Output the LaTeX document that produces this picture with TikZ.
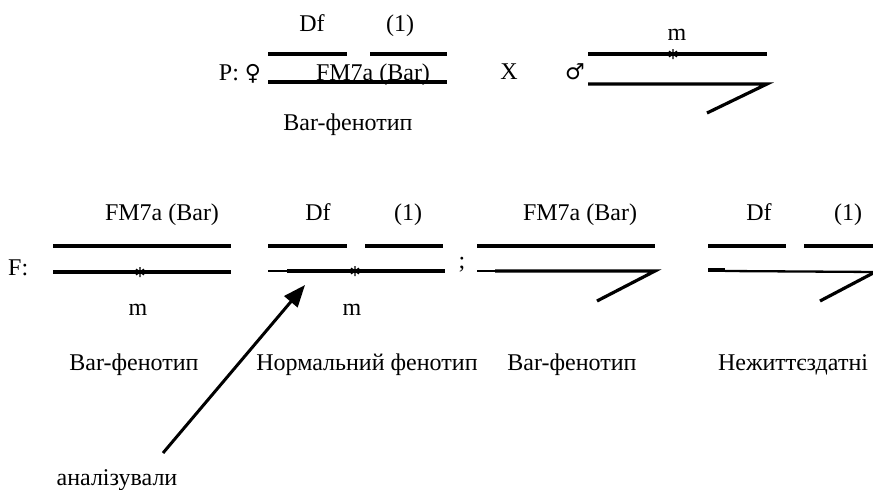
\documentclass[tikz,border=0pt]{standalone}
\usepackage{fontspec}
\setmainfont{Liberation Serif}
\newfontfamily\gsym{DejaVu Sans}
\usetikzlibrary{arrows.meta}
\begin{document}
\begin{tikzpicture}[x=1pt,y=-1pt,
  chrom/.style={line width=3.2pt},
  thinchrom/.style={line width=2.3pt},
  lbl/.style={inner sep=0pt, anchor=base, font=\fontsize{24}{28}\selectfont},
  pointer/.style={line width=3pt,-{Triangle[length=22pt,width=17pt]}},
  astk/.pic={\draw[line width=1.4pt] (0,-5)--(0,5) (-4,-2.8)--(4,2.8) (-4,2.8)--(4,-2.8);}]
\useasboundingbox (0,0) rectangle (873,490);
\clip (0,0) rectangle (873,490);

% ---------- P generation ----------
\node[lbl] (pdf) at (312,31) {Df};
\node[lbl] (pone) at (400,31) {(1)};
\node[lbl] (pfem) at (240,80) {P: {\gsym\fontsize{22}{26}\selectfont ♀}};
\node[lbl] (pfm) at (373,80) {FM7a (Bar)};
\node[lbl] (pbar) at (348,130) {Bar-фенотип};
\node[lbl] (px) at (509,79) {X};
\node[lbl] (pmale) at (575,79) {\gsym\fontsize{22}{26}\selectfont ♂};
\node[lbl] (pm) at (677,40) {m};

\draw[chrom] (268,54) -- (347,54);
\draw[chrom] (370,54) -- (447,54);
\draw[chrom] (268,82) -- (447,82);

\draw[chrom] (588,54) -- (767,54);
\pic at (673,54) {astk};
\draw[chrom] (588,84) -- (767,84) -- (707,113);

% ---------- F generation ----------
\node[lbl, anchor=base west] (ff) at (8,275) {F:};
\node[lbl] (fm1) at (162,220) {FM7a (Bar)};
\node[lbl] (fdf2) at (318,220) {Df};
\node[lbl] (fone2) at (408,220) {(1)};
\node[lbl] (fm3) at (580,220) {FM7a (Bar)};
\node[lbl] (fdf4) at (759,220) {Df};
\node[lbl] (fone4) at (848,220) {(1)};
\node[lbl] (fsemi) at (462,268) {;};
\node[lbl] (fmA) at (138,315) {m};
\node[lbl] (fmB) at (352,315) {m};
\node[lbl] (ph1) at (134,370) {Bar-фенотип};
\node[lbl] (ph2) at (367,370) {Нормальний фенотип};
\node[lbl] (ph3) at (572,370) {Bar-фенотип};
\node[lbl] (ph4) at (793,370) {Нежиттєздатні};
\node[lbl] (anal) at (117,485) {аналізували};

% group 1
\draw[chrom] (53,246) -- (231,246);
\draw[chrom] (53,272) -- (231,272);
\pic at (140,272) {astk};
% group 2
\draw[chrom] (268,246) -- (347,246);
\draw[chrom] (365,246) -- (443,246);
\draw[thinchrom] (268,271) -- (287,271);
\draw[chrom] (287,271) -- (445,271);
\pic at (355,271) {astk};
% group 3
\draw[chrom] (477,246) -- (655,246);
\draw[thinchrom] (477,271) -- (495,271);
\draw[chrom] (495,271) -- (655,271) -- (597,301);
% group 4
\draw[chrom] (708,246) -- (786,246);
\draw[chrom] (804,246) -- (880,246);
\draw[chrom] (708,270) -- (725,270);
\draw[thinchrom] (725,271) -- (877,272);
\draw[chrom] (877,271) -- (820,301);

% arrow
\coordinate (atail) at (163,453);
\coordinate (atip) at (305,285);
\draw[pointer] (atail) -- (atip);
\end{tikzpicture}
\end{document}
